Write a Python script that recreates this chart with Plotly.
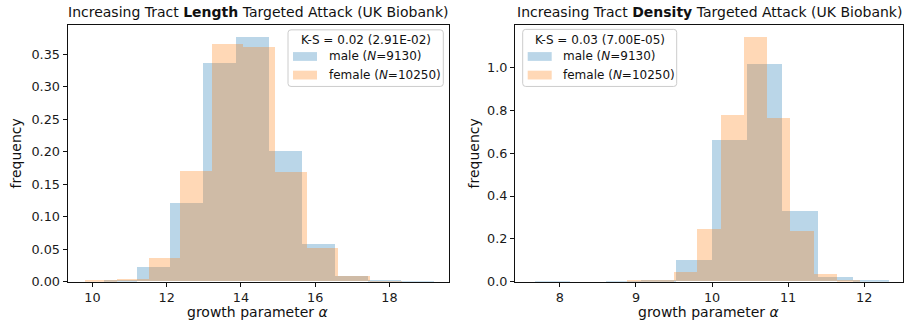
import plotly.graph_objects as go

# ---- histogram data (density-normalised bins) ----
# Left panel: increasing tract length targeted attack
len_male_edges = [10.31, 11.197, 12.084, 12.971, 13.858, 14.745, 15.632, 16.519, 17.406, 18.293, 19.18]
len_male_freq = [0.002, 0.0216, 0.121, 0.3375, 0.3765, 0.2005, 0.0576, 0.008, 0.001, 0.0002]
len_female_edges = [9.80, 10.651, 11.502, 12.353, 13.204, 14.055, 14.906, 15.757, 16.608, 17.459, 18.31]
len_female_freq = [0.002, 0.004, 0.0366, 0.1705, 0.3665, 0.3615, 0.169, 0.0516, 0.008, 0.0007]

# Right panel: increasing tract density targeted attack
den_male_edges = [7.67, 8.135, 8.60, 9.065, 9.53, 9.995, 10.46, 10.925, 11.39, 11.855, 12.32]
den_male_freq = [0.0003, 0.0, 0.002, 0.005, 0.10, 0.659, 1.015, 0.330, 0.020, 0.005]
den_female_edges = [8.888, 9.194, 9.50, 9.806, 10.112, 10.418, 10.724, 11.03, 11.336, 11.642, 11.948]
den_female_freq = [0.003, 0.005, 0.043, 0.243, 0.777, 1.141, 0.765, 0.235, 0.035, 0.006]

titles = ["Increasing Tract <b>Length</b> Targeted Attack (UK Biobank)",
          "Increasing Tract <b>Density</b> Targeted Attack (UK Biobank)"]
ks_labels = ["K-S = 0.02 (2.91E-02)", "K-S = 0.03 (7.00E-05)"]
male_label = "male (<i>N</i>=9130)"
female_label = "female (<i>N</i>=10250)"

W, H = 907, 333
FONT = "DejaVu Sans"
BLUE = "#1f77b4"
ORANGE = "#ff7f0e"
ALPHA = 0.3
TEXT = "#111111"


def px(x):
    return x / W


def py(y):
    return 1 - y / H


def hist_bar(edges, freq, color, name, xa, ya):
    centers = [(a + b) / 2 for a, b in zip(edges[:-1], edges[1:])]
    widths = [b - a for a, b in zip(edges[:-1], edges[1:])]
    return go.Bar(x=centers, y=freq, width=widths, name=name,
                  marker=dict(color=color, line=dict(width=0)),
                  opacity=ALPHA, xaxis=xa, yaxis=ya, showlegend=False,
                  hovertemplate="%{x:.2f}: %{y:.3f}<extra></extra>")


fig = go.Figure()
fig.add_trace(hist_bar(len_male_edges, len_male_freq, BLUE, "male", "x", "y"))
fig.add_trace(hist_bar(len_female_edges, len_female_freq, ORANGE, "female", "x", "y"))
fig.add_trace(hist_bar(den_male_edges, den_male_freq, BLUE, "male", "x2", "y2"))
fig.add_trace(hist_bar(den_female_edges, den_female_freq, ORANGE, "female", "x2", "y2"))

# plot-area pixel boxes
left_box = (67.5, 449.3)
right_box = (515.0, 903.0)
top_px, bot_px = 25.7, 287.7

axis_common = dict(showgrid=False, zeroline=False, showline=True, mirror=True,
                   linecolor="#111111", linewidth=1, ticks="outside", ticklen=4,
                   tickwidth=1, tickcolor="#111111",
                   tickfont=dict(family=FONT, size=12.8, color="#1a1a1a"))

fig.update_layout(
    width=W, height=H,
    margin=dict(l=0, r=0, t=0, b=0),
    paper_bgcolor="white", plot_bgcolor="white",
    barmode="overlay", bargap=0,
    font=dict(family=FONT, size=12, color=TEXT),
    xaxis=dict(domain=[px(left_box[0]), px(left_box[1])], range=[9.33, 19.61],
               tickvals=[10, 12, 14, 16, 18], anchor="y", **axis_common),
    yaxis=dict(domain=[py(bot_px), py(top_px)], range=[0, 0.3953],
               tickvals=[0, 0.05, 0.10, 0.15, 0.20, 0.25, 0.30, 0.35],
               tickformat=".2f", anchor="x", **axis_common),
    xaxis2=dict(domain=[px(right_box[0]), px(right_box[1])], range=[7.41, 12.51],
                tickvals=[8, 9, 10, 11, 12], anchor="y2", **axis_common),
    yaxis2=dict(domain=[py(bot_px), py(top_px)], range=[0, 1.198],
                tickvals=[0, 0.2, 0.4, 0.6, 0.8, 1.0],
                tickformat=".1f", anchor="x2", **axis_common),
)

annotations = []
shapes = []

# titles and axis labels
for box, title, ylab_x in [(left_box, titles[0], 16), (right_box, titles[1], 474)]:
    cx = (box[0] + box[1]) / 2
    annotations.append(dict(text=title, x=px(cx), y=py(12.5), xref="paper", yref="paper",
                            xanchor="center", yanchor="middle", showarrow=False,
                            font=dict(family=FONT, size=14, color=TEXT)))
    annotations.append(dict(text="growth parameter <i>α</i>", x=px(cx), y=py(319),
                            xref="paper", yref="paper", xanchor="center", yanchor="middle",
                            showarrow=False, font=dict(family=FONT, size=14, color=TEXT)))
    annotations.append(dict(text="frequency", x=px(ylab_x), y=py((top_px + bot_px) / 2),
                            xref="paper", yref="paper", xanchor="center", yanchor="middle",
                            textangle=-90, showarrow=False,
                            font=dict(family=FONT, size=14, color=TEXT)))


def add_legend(x0, y0, x1, y1, title):
    r = 3
    path = (f"M {px(x0 + r)} {py(y0)} L {px(x1 - r)} {py(y0)} Q {px(x1)} {py(y0)} {px(x1)} {py(y0 + r)} "
            f"L {px(x1)} {py(y1 - r)} Q {px(x1)} {py(y1)} {px(x1 - r)} {py(y1)} "
            f"L {px(x0 + r)} {py(y1)} Q {px(x0)} {py(y1)} {px(x0)} {py(y1 - r)} "
            f"L {px(x0)} {py(y0 + r)} Q {px(x0)} {py(y0)} {px(x0 + r)} {py(y0)} Z")
    shapes.append(dict(type="path", path=path, xref="paper", yref="paper",
                       fillcolor="rgba(255,255,255,0.8)", line=dict(color="#cccccc", width=1),
                       layer="above"))
    annotations.append(dict(text=title, x=px((x0 + x1) / 2), y=py(40.7), xref="paper", yref="paper",
                            xanchor="center", yanchor="middle", showarrow=False,
                            font=dict(family=FONT, size=12, color=TEXT)))
    for row_y, color, label in [(57.7, BLUE, male_label), (76.7, ORANGE, female_label)]:
        shapes.append(dict(type="rect", xref="paper", yref="paper",
                           x0=px(x0 + 5), x1=px(x0 + 29), y0=py(row_y - 4.5), y1=py(row_y + 4.5),
                           fillcolor=color, opacity=ALPHA, line=dict(width=0), layer="above"))
        annotations.append(dict(text=label, x=px(x0 + 38.5), y=py(row_y), xref="paper", yref="paper",
                                xanchor="left", yanchor="middle", showarrow=False,
                                font=dict(family=FONT, size=12, color=TEXT)))


add_legend(288.0, 30.5, 443.3, 88.3, ks_labels[0])
add_legend(522.7, 30.0, 676.7, 88.3, ks_labels[1])

fig.update_layout(annotations=annotations, shapes=shapes)

fig.write_html("out.html")
